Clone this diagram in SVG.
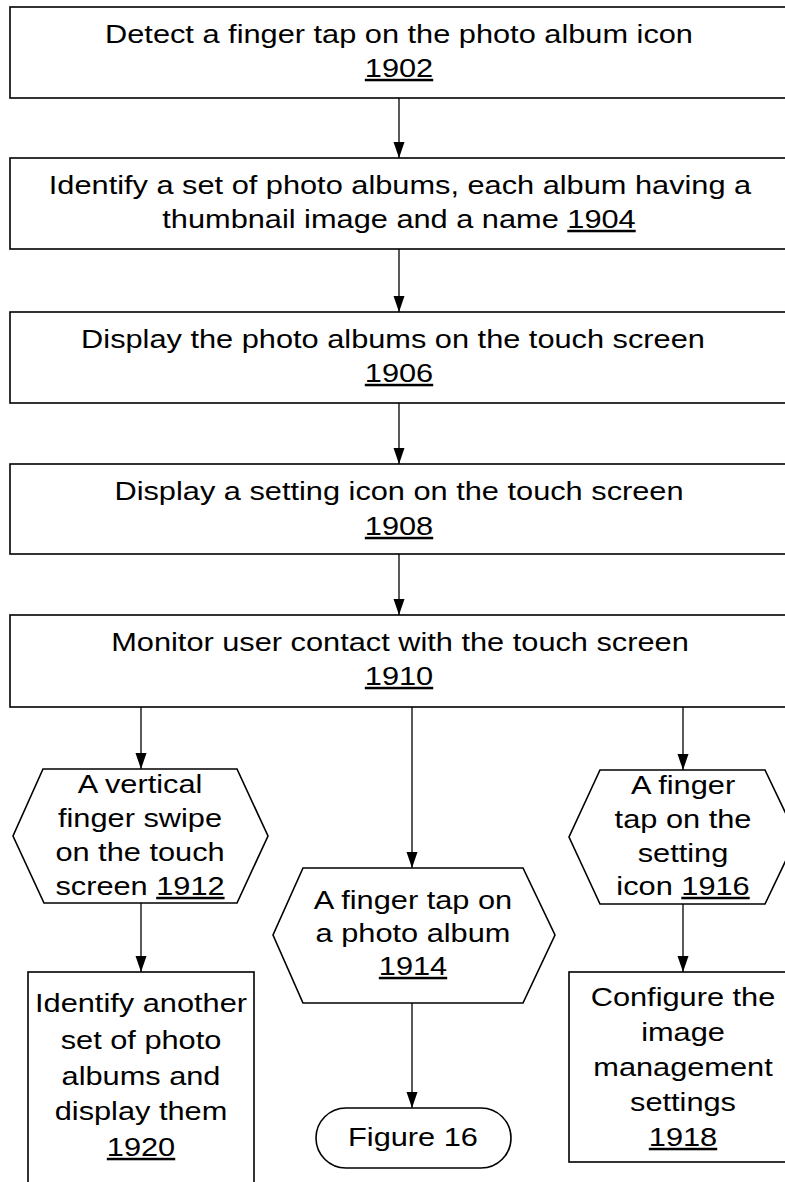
<svg xmlns="http://www.w3.org/2000/svg" width="785" height="1182" viewBox="0 0 785 1182">
<style>
.box{fill:#fff;stroke:#000;stroke-width:1.6}
.con{fill:none;stroke:#000;stroke-width:1.3;marker-end:url(#ah)}
text{font-family:"Liberation Sans",Arial,sans-serif;font-size:25px;text-anchor:middle;fill:#000}
.u{text-decoration:underline}
</style>
<defs>
<marker id="ah" markerUnits="userSpaceOnUse" markerWidth="16" markerHeight="12" refX="16" refY="6" orient="auto">
<path d="M0,0.5 L16,6 L0,11.5 z" fill="#000"/>
</marker>
</defs>
<rect width="785" height="1182" fill="#fff"/>
<g id="connectors">
<line class="con" x1="399" y1="98" x2="399" y2="158"/>
<line class="con" x1="399" y1="249" x2="399" y2="312"/>
<line class="con" x1="399" y1="403" x2="399" y2="464"/>
<line class="con" x1="399" y1="554" x2="399" y2="615"/>
<line class="con" x1="141" y1="707" x2="141" y2="769"/>
<line class="con" x1="412" y1="707" x2="412" y2="868"/>
<line class="con" x1="683" y1="707" x2="683" y2="770"/>
<line class="con" x1="141" y1="903" x2="141" y2="972"/>
<line class="con" x1="412" y1="1003" x2="412" y2="1108"/>
<line class="con" x1="683" y1="904" x2="683" y2="972"/>
</g>
<g id="n1902">
<rect class="box" x="10" y="7" width="790" height="91"/>
<text transform="translate(399 43) scale(1.23 1)">Detect a finger tap on the photo album icon</text>
<text transform="translate(399 77) scale(1.23 1)"><tspan class="u">1902</tspan></text>
</g>
<g id="n1904">
<rect class="box" x="10" y="158" width="790" height="91"/>
<text transform="translate(400 194) scale(1.23 1)">Identify a set of photo albums, each album having a</text>
<text transform="translate(399 228) scale(1.23 1)">thumbnail image and a name <tspan class="u">1904</tspan></text>
</g>
<g id="n1906">
<rect class="box" x="10" y="312" width="790" height="91"/>
<text transform="translate(393 348) scale(1.23 1)">Display the photo albums on the touch screen</text>
<text transform="translate(399 382) scale(1.23 1)"><tspan class="u">1906</tspan></text>
</g>
<g id="n1908">
<rect class="box" x="10" y="464" width="790" height="90"/>
<text transform="translate(399 500) scale(1.23 1)">Display a setting icon on the touch screen</text>
<text transform="translate(399 535) scale(1.23 1)"><tspan class="u">1908</tspan></text>
</g>
<g id="n1910">
<rect class="box" x="10" y="615" width="790" height="92"/>
<text transform="translate(400 651) scale(1.23 1)">Monitor user contact with the touch screen</text>
<text transform="translate(399 685) scale(1.23 1)"><tspan class="u">1910</tspan></text>
</g>
<g id="n1912">
<polygon class="box" points="43,769 237,769 268,836 237,903 44,903 13,836"/>
<text transform="translate(140 793) scale(1.23 1)">A vertical</text>
<text transform="translate(140 827) scale(1.23 1)">finger swipe</text>
<text transform="translate(140 861) scale(1.23 1)">on the touch</text>
<text transform="translate(140 895) scale(1.23 1)">screen <tspan class="u">1912</tspan></text>
</g>
<g id="n1914">
<polygon class="box" points="303,868 523,868 555,935 523,1003 303,1003 273,935"/>
<text transform="translate(413 909) scale(1.23 1)">A finger tap on</text>
<text transform="translate(413 942) scale(1.23 1)">a photo album</text>
<text transform="translate(413 975) scale(1.23 1)"><tspan class="u">1914</tspan></text>
</g>
<g id="n1916">
<polygon class="box" points="600,770 765,770 797,837 765,904 600,904 569,837"/>
<text transform="translate(683 794) scale(1.23 1)">A finger</text>
<text transform="translate(683 828) scale(1.23 1)">tap on the</text>
<text transform="translate(683 862) scale(1.23 1)">setting</text>
<text transform="translate(683 895) scale(1.23 1)">icon <tspan class="u">1916</tspan></text>
</g>
<g id="n1920">
<rect class="box" x="28" y="972" width="226" height="230"/>
<text transform="translate(141 1012) scale(1.23 1)">Identify another</text>
<text transform="translate(141 1049) scale(1.23 1)">set of photo</text>
<text transform="translate(141 1085) scale(1.23 1)">albums and</text>
<text transform="translate(141 1120) scale(1.23 1)">display them</text>
<text transform="translate(141 1156) scale(1.23 1)"><tspan class="u">1920</tspan></text>
</g>
<g id="fig16">
<rect class="box" x="316" y="1108" width="195" height="60" rx="30" ry="30"/>
<text transform="translate(413 1146) scale(1.23 1)">Figure 16</text>
</g>
<g id="n1918">
<rect class="box" x="569" y="972" width="240" height="190"/>
<text transform="translate(683 1006) scale(1.23 1)">Configure the</text>
<text transform="translate(683 1041) scale(1.23 1)">image</text>
<text transform="translate(683 1076) scale(1.23 1)">management</text>
<text transform="translate(683 1111) scale(1.23 1)">settings</text>
<text transform="translate(683 1146) scale(1.23 1)"><tspan class="u">1918</tspan></text>
</g>
</svg>
